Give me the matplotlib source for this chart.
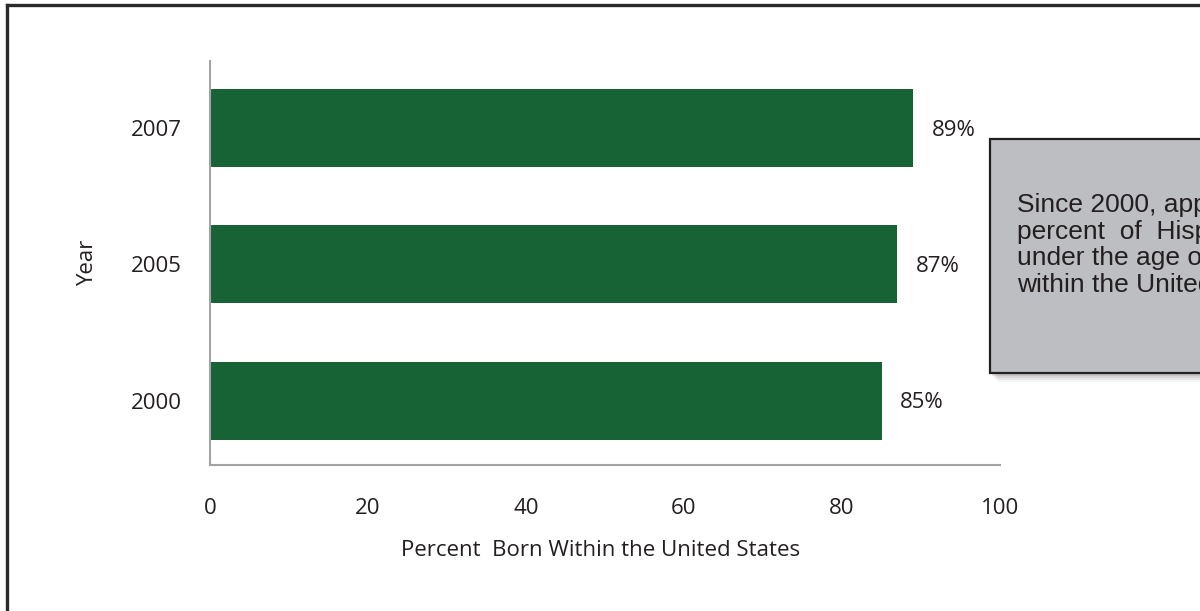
import matplotlib
matplotlib.use("Agg")
import matplotlib.pyplot as plt
from matplotlib.patches import Rectangle
from matplotlib.lines import Line2D

# data
years = ["2000", "2005", "2007"]
percent_born = [85, 87, 89]
x_ticks = [0, 20, 40, 60, 80, 100]
# note box text, cut by the right edge as in the original
note_lines = [
    "Since 2000, app",
    "percent  of  Hisp",
    "under the age of",
    "within the United",
]

W, H = 1200, 611
green = "#176336"
ink = "#231f20"

plt.rcParams["font.family"] = ["Open Sans", "DejaVu Sans"]

fig = plt.figure(figsize=(W / 100, H / 100), dpi=100)
fig.patch.set_facecolor("white")
ax = fig.add_axes([210 / W, 1 - 465 / H, 790 / W, 404 / H])

pos = list(range(len(years)))
ax.barh(pos, percent_born, height=0.572, color=green)
for p, v in zip(pos, percent_born):
    ax.annotate(f"{v}%", (v, p), xytext=(13.5, -1.5), textcoords="offset points",
                va="center", ha="left", fontsize=16, color=ink)

ax.set_xlim(0, 100)
ax.set_ylim(-0.473, 2.492)
ax.set_xticks(x_ticks)
ax.set_yticks(pos)
ax.set_yticklabels(years)
ax.tick_params(length=0, labelsize=16, labelcolor=ink)
ax.tick_params(axis="x", pad=24)
ax.tick_params(axis="y", pad=20)

for s in ["top", "right"]:
    ax.spines[s].set_visible(False)
for s in ["left", "bottom"]:
    ax.spines[s].set_color("#a3a3a3")
    ax.spines[s].set_linewidth(1.5)

ax.set_xlabel("Percent  Born Within the United States", fontsize=16, color=ink)
ax.xaxis.set_label_coords(0.494, (465 - 551) / 404)
ax.xaxis.label.set_va("center")
ax.set_ylabel("Year", fontsize=16, color=ink)
ax.yaxis.set_label_coords((88 - 210) / 790, 0.5)
ax.yaxis.label.set_va("center")

# outer frame (left and top edges only visible)
fig.add_artist(Line2D([6.5 / W, 6.5 / W], [0, 1 - 4.5 / H], color="#2a2a2a", lw=2.4,
                      transform=fig.transFigure, solid_capstyle="projecting"))
fig.add_artist(Line2D([6.5 / W, 1.02], [1 - 4.5 / H, 1 - 4.5 / H], color="#2a2a2a", lw=2.4,
                      transform=fig.transFigure, solid_capstyle="projecting"))

# note box with soft shadow
bx, btop, bbot = 990, 139, 373
for k, a in [(9, 0.05), (7, 0.07), (5, 0.1), (3, 0.14)]:
    fig.add_artist(Rectangle(((bx + k - 1) / W, 1 - (bbot + k) / H), 260 / W, (bbot - btop) / H,
                             transform=fig.transFigure, facecolor="#444444", edgecolor="none",
                             alpha=a))
fig.add_artist(Rectangle((bx / W, 1 - bbot / H), 260 / W, (bbot - btop) / H,
                         transform=fig.transFigure, facecolor="#bdbec1", edgecolor=ink, lw=1.6))
for i, line in enumerate(note_lines):
    fig.text(1017 / W, 1 - (205 + i * 26.7) / H, line, fontsize=19, color=ink,
             family=["Liberation Sans", "DejaVu Sans"], va="center", ha="left")

fig.savefig("out.png", dpi=100)
